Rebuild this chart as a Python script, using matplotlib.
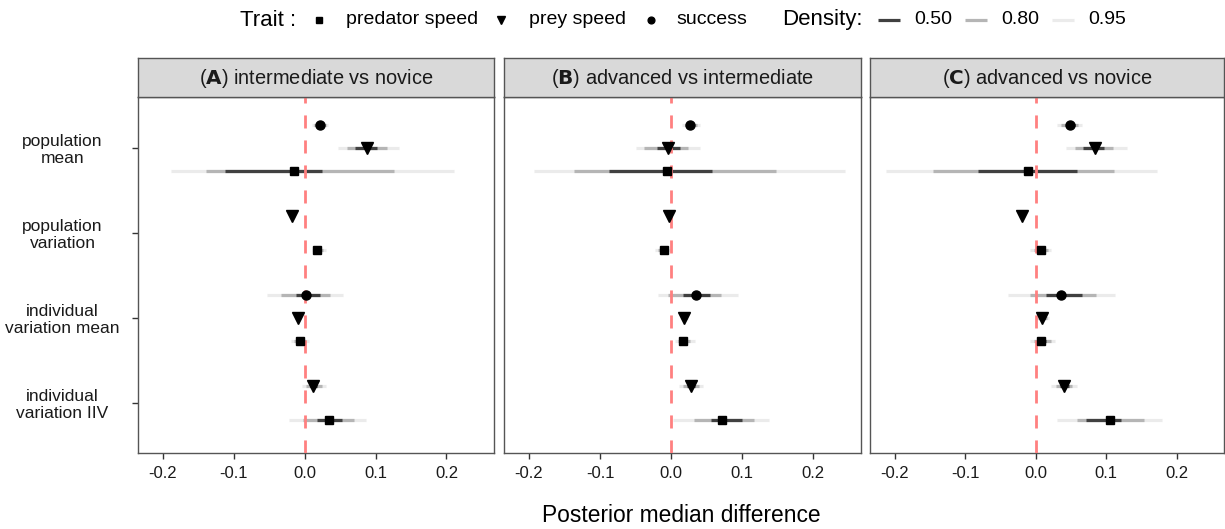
import matplotlib
matplotlib.use("Agg")
import matplotlib.pyplot as plt
from matplotlib.lines import Line2D
import numpy as np

plt.rcParams['font.family'] = ['Liberation Sans', 'DejaVu Sans']

# rows: (parameter, trait), top to bottom inside each parameter group
parameters = ["population\nmean", "population\nvariation",
              "individual\nvariation mean", "individual\nvariation IIV"]
traits = ["predator speed", "prey speed", "success"]
row_param = [0, 0, 0, 1, 1, 2, 2, 2, 3, 3]
row_trait = ["success", "prey speed", "predator speed",
             "prey speed", "predator speed",
             "success", "prey speed", "predator speed",
             "prey speed", "predator speed"]

panel_titles = [("A", "intermediate vs novice"),
                ("B", "advanced vs intermediate"),
                ("C", "advanced vs novice")]

# (A) intermediate vs novice
a_med = [0.0216, 0.088, -0.0155, -0.0174, 0.0173, 0.0018, -0.009, -0.0066, 0.0122, 0.0342]
a_95 = [(0.010, 0.033), (0.0465, 0.133), (-0.188, 0.210), (-0.021, -0.014), (0.0099, 0.030),
        (-0.0535, 0.0535), (-0.013, -0.005), (-0.0193, 0.0061), (-0.0034, 0.030), (-0.0225, 0.0863)]
a_80 = [(0.013, 0.030), (0.060, 0.116), (-0.139, 0.126), (-0.020, -0.015), (0.012, 0.026),
        (-0.0338, 0.0356), (-0.012, -0.006), (-0.015, 0.002), (0.002, 0.024), (-0.002, 0.0694)]
a_50 = [(0.017, 0.026), (0.0713, 0.1023), (-0.113, 0.0244), (-0.019, -0.016), (0.014, 0.021),
        (-0.0127, 0.0216), (-0.011, -0.007), (-0.011, -0.002), (0.007, 0.018), (0.0178, 0.053)]

# (B) advanced vs intermediate
b_med = [0.0272, -0.0047, -0.0056, -0.0024, -0.0104, 0.0343, 0.0188, 0.0164, 0.0282, 0.0709]
b_95 = [(0.0155, 0.0413), (-0.049, 0.0413), (-0.193, 0.245), (-0.006, 0.001), (-0.022, 0.0),
        (-0.0188, 0.0939), (0.014, 0.024), (0.006, 0.0329), (0.0117, 0.0446), (0.0028, 0.138)]
b_80 = [(0.019, 0.036), (-0.0376, 0.0234), (-0.136, 0.147), (-0.005, 0.0), (-0.018, -0.004),
        (-0.0047, 0.0705), (0.015, 0.022), (0.010, 0.027), (0.017, 0.039), (0.032, 0.117)]
b_50 = [(0.023, 0.031), (-0.0197, 0.0122), (-0.087, 0.0578), (-0.004, -0.001), (-0.014, -0.007),
        (0.0164, 0.0545), (0.017, 0.021), (0.013, 0.021), (0.022, 0.034), (0.0564, 0.0995)]

# (C) advanced vs novice
c_med = [0.0493, 0.0845, -0.0103, -0.0197, 0.007, 0.036, 0.0094, 0.008, 0.040, 0.1056]
c_95 = [(0.0296, 0.0657), (0.0427, 0.130), (-0.212, 0.172), (-0.024, -0.016), (-0.0085, 0.022),
        (-0.040, 0.1127), (0.0, 0.019), (-0.0085, 0.028), (0.022, 0.0586), (0.0305, 0.179)]
c_80 = [(0.036, 0.060), (0.055, 0.110), (-0.1456, 0.111), (-0.022, -0.017), (-0.003, 0.017),
        (-0.0085, 0.0854), (0.003, 0.016), (-0.002, 0.021), (0.029, 0.052), (0.0586, 0.1535)]
c_50 = [(0.043, 0.055), (0.0667, 0.0962), (-0.082, 0.0586), (-0.021, -0.018), (0.002, 0.012),
        (0.014, 0.0657), (0.006, 0.013), (0.003, 0.014), (0.034, 0.047), (0.0718, 0.1206)]

densities = ["0.50", "0.80", "0.95"]
dens_colors = {"0.95": "#ebebeb", "0.80": "#b5b5b5", "0.50": "#404040"}
markers = {"predator speed": "s", "prey speed": "v", "success": "o"}
msizes = {"predator speed": 6, "prey speed": 8, "success": 6.5}

panels = [(a_med, a_95, a_80, a_50), (b_med, b_95, b_80, b_50), (c_med, c_95, c_80, c_50)]

# y positions with dodge (width 0.8), like ggplot position_dodge
dodge = 0.8
cat_y = {0: 4, 1: 3, 2: 2, 3: 1}
ypos = []
for i, p in enumerate(row_param):
    members = [j for j, q in enumerate(row_param) if q == p]
    n = len(members)
    k = members.index(i)
    offs = np.linspace(dodge / 2 - dodge / (2 * n), -dodge / 2 + dodge / (2 * n), n)
    ypos.append(cat_y[p] + offs[k])

W, H = 1225, 529
fig = plt.figure(figsize=(W / 100, H / 100), dpi=100)

lefts = [138, 504, 870]
rights = [494, 861, 1224]
top, bottom, strip_top = 97, 453, 58
edge = "#555555"

for pi, (med, q95, q80, q50) in enumerate(panels):
    l, r = lefts[pi], rights[pi]
    ax = fig.add_axes([l / W, (H - bottom) / H, (r - l) / W, (bottom - top) / H])
    for q, d in [(q95, "0.95"), (q80, "0.80"), (q50, "0.50")]:
        for i in range(len(med)):
            ax.plot([q[i][0], q[i][1]], [ypos[i], ypos[i]], color=dens_colors[d],
                    lw=2.3, solid_capstyle="butt", zorder=2)
    dl = ax.axvline(0, color="#ff8080", lw=2, zorder=3)
    dl.set_dashes((4.7, 4.3))
    for i in range(len(med)):
        t = row_trait[i]
        ax.plot(med[i], ypos[i], marker=markers[t], ms=msizes[t], color="black",
                ls="none", zorder=4)
    ax.set_xlim(-0.235, 0.267)
    ax.set_ylim(0.41, 4.6)
    ax.set_xticks([-0.2, -0.1, 0.0, 0.1, 0.2])
    ax.set_xticklabels(["-0.2", "-0.1", "0.0", "0.1", "0.2"])
    ax.set_yticks([4, 3, 2, 1])
    ax.tick_params(axis="both", direction="out", length=4, width=1, color="#333333")
    if pi == 0:
        ax.set_yticklabels(parameters, ha="center", fontsize=12.5, color="#1a1a1a",
                           linespacing=1.15)
        ax.tick_params(axis="y", pad=50.4)
    else:
        ax.set_yticklabels([])
        ax.tick_params(axis="y", length=0)
    ax.tick_params(axis="x", labelsize=12, labelcolor="#1a1a1a", pad=5)
    for s in ax.spines.values():
        s.set_color(edge)
        s.set_linewidth(1)

    sax = fig.add_axes([l / W, (H - top) / H, (r - l) / W, (top - strip_top) / H])
    sax.set_facecolor("#d9d9d9")
    sax.set_xticks([])
    sax.set_yticks([])
    for s in sax.spines.values():
        s.set_color(edge)
        s.set_linewidth(1)
    letter, title = panel_titles[pi]
    sax.text(0.5, 0.47, r"($\mathbf{" + letter + r"}$) " + title, ha="center", va="center",
             fontsize=14.4, color="#1a1a1a", transform=sax.transAxes)

fig.text((lefts[0] + rights[2]) / 2 / W, 1 - 516 / H, "Posterior median difference",
         ha="center", va="center", fontsize=16.4, color="black")

# top legend
ly = 1 - 20 / H
fig.text(240 / W, ly, "Trait :", ha="left", va="center", fontsize=16)
key_x = {"predator speed": 319, "prey speed": 501, "success": 651}
lab_x = {"predator speed": 346, "prey speed": 529, "success": 676}
for t in traits:
    fig.add_artist(Line2D([key_x[t] / W], [ly], marker=markers[t], ms=msizes[t] * 0.75,
                          color="black", ls="none", transform=fig.transFigure))
    fig.text(lab_x[t] / W, ly, t, ha="left", va="center", fontsize=14)
fig.text(782 / W, ly, "Density:", ha="left", va="center", fontsize=16)
seg_x = {"0.50": 878, "0.80": 965, "0.95": 1052}
for d in densities:
    x0 = seg_x[d]
    fig.add_artist(Line2D([x0 / W, (x0 + 22) / W], [ly, ly], color=dens_colors[d], lw=2.3,
                          solid_capstyle="butt", transform=fig.transFigure))
    fig.text((x0 + 36) / W, ly, d, ha="left", va="center", fontsize=14)

fig.savefig("out.png", dpi=100)
